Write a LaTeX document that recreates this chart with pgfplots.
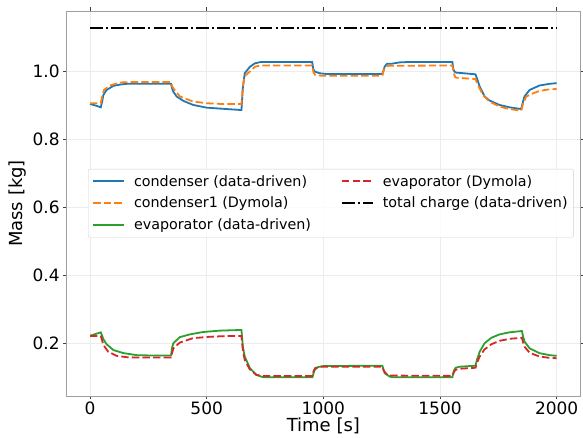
\documentclass[border=0pt]{standalone}
\usepackage{fontspec}
\setmainfont{DejaVu Sans}
\usepackage{pgfplots}
\pgfplotsset{compat=1.18}
\definecolor{cblue}{HTML}{1F77B4}
\definecolor{corange}{HTML}{FF7F0E}
\definecolor{cgreen}{HTML}{2CA02C}
\definecolor{cred}{HTML}{D62728}
\begin{document}
\begin{tikzpicture}
\begin{axis}[
  scale only axis, width=513.3pt, height=385pt,
  xmin=-100, xmax=2100, ymin=0.045, ymax=1.176,
  xtick={0,500,1000,1500,2000}, ytick={0.2,0.4,0.6,0.8,1.0},
  /pgf/number format/assume math mode=true,
  /pgf/number format/1000 sep={},
  yticklabel style={/pgf/number format/.cd,fixed,fixed zerofill,precision=1},
  tick label style={font=\fontsize{17}{20}\selectfont},
  xticklabel style={yshift=1pt},
  label style={font=\fontsize{18}{21}\selectfont},
  xlabel={Time [s]}, ylabel={Mass [kg]},
  xlabel style={yshift=2pt, inner ysep=1pt},
  grid=major, major grid style={draw=gray!15, line width=0.8pt},
  axis line style={draw=gray!75, line width=0.8pt},
  tick align=outside, major tick length=3.5pt,
  tick style={draw=black!75, line width=0.8pt},
  legend columns=2,
  legend cell align=left,
  legend image code/.code={\draw[#1] (0pt,0pt) -- (31pt,0pt);},
  legend style={at={(0.0415,0.5896)}, anchor=north west,
    font=\fontsize{14.3}{17}\selectfont,
    draw=gray!35, fill=white, fill opacity=0.8, draw opacity=1, text opacity=1,
    rounded corners=2pt, inner xsep=4pt, inner ysep=4pt, row sep=5.5pt,
    /tikz/every odd column/.append style={column sep=7pt},
    /tikz/every even column/.append style={column sep=28pt}},
]
% condenser (data-driven)
\addplot[cblue, line width=1.8pt, forget plot] coordinates {
(0,0.903)(25,0.898)(46,0.893)(52,0.910)(57,0.929)(71,0.944)(100,0.956)(130,0.960)(157,0.962)(347,0.962)
(352,0.948)(357,0.939)(371,0.925)(400,0.912)(442,0.900)(500,0.892)(585,0.888)(649,0.885)
(655,0.950)(663,0.993)(685,1.012)(706,1.022)(730,1.026)(952,1.026)
(957,1.005)(963,0.998)(985,0.993)(1013,0.991)(1253,0.991)
(1258,1.002)(1263,1.013)(1273,1.021)(1292,1.021)(1327,1.025)(1360,1.026)(1553,1.026)
(1557,1.005)(1562,0.998)(1570,0.995)(1652,0.990)
(1660,0.975)(1670,0.954)(1691,0.925)(1712,0.913)(1755,0.900)(1798,0.893)(1848,0.888)
(1855,0.908)(1862,0.925)(1884,0.944)(1926,0.957)(1969,0.962)(2000,0.964)
};
% condenser1 (Dymola)
\addplot[corange, line width=1.8pt, dash pattern=on 7.4pt off 3.2pt, forget plot] coordinates {
(0,0.905)(46,0.905)(52,0.925)(60,0.944)(85,0.957)(128,0.966)(170,0.967)(347,0.967)
(352,0.955)(357,0.949)(385,0.925)(442,0.910)(500,0.905)(560,0.903)(649,0.903)
(655,0.955)(663,0.985)(685,0.998)(706,1.012)(730,1.016)(952,1.016)
(958,0.995)(965,0.988)(990,0.986)(1253,0.986)
(1258,1.000)(1265,1.012)(1280,1.015)(1553,1.016)
(1558,0.995)(1565,0.982)(1570,0.980)(1652,0.976)
(1665,0.955)(1684,0.929)(1712,0.910)(1755,0.895)(1798,0.888)(1848,0.883)
(1856,0.905)(1870,0.925)(1898,0.934)(1926,0.941)(1960,0.945)(2000,0.947)
};
% evaporator (data-driven)
\addplot[cgreen, line width=1.8pt, forget plot] coordinates {
(0,0.222)(46,0.232)(52,0.222)(57,0.212)(71,0.197)(100,0.180)(143,0.171)(200,0.165)(260,0.164)(347,0.164)
(352,0.188)(357,0.200)(385,0.218)(428,0.226)(485,0.233)(556,0.237)(649,0.239)
(655,0.190)(663,0.161)(685,0.127)(713,0.107)(742,0.100)(953,0.100)
(958,0.112)(963,0.122)(977,0.130)(1000,0.133)(1253,0.134)
(1258,0.122)(1263,0.112)(1284,0.102)(1300,0.100)(1553,0.100)
(1560,0.120)(1567,0.128)(1584,0.131)(1652,0.134)
(1660,0.155)(1670,0.175)(1691,0.200)(1720,0.216)(1755,0.226)(1798,0.232)(1851,0.236)
(1856,0.220)(1862,0.205)(1884,0.185)(1926,0.171)(1969,0.165)(2000,0.163)
};
% evaporator (Dymola)
\addplot[cred, line width=1.8pt, dash pattern=on 7.4pt off 3.2pt, forget plot] coordinates {
(0,0.221)(46,0.221)(52,0.208)(57,0.195)(78,0.175)(114,0.163)(157,0.159)(200,0.158)(347,0.158)
(352,0.172)(357,0.185)(385,0.202)(442,0.215)(514,0.219)(580,0.221)(649,0.221)
(655,0.180)(663,0.151)(685,0.123)(713,0.107)(740,0.104)(953,0.104)
(958,0.118)(965,0.127)(985,0.131)(1253,0.131)
(1260,0.118)(1270,0.110)(1290,0.105)(1553,0.104)
(1560,0.116)(1567,0.122)(1584,0.125)(1652,0.128)
(1660,0.145)(1670,0.161)(1691,0.182)(1720,0.197)(1755,0.207)(1798,0.213)(1851,0.216)
(1856,0.203)(1862,0.190)(1884,0.172)(1926,0.161)(1969,0.157)(2000,0.156)
};
% total charge (data-driven)
\addplot[black, line width=1.8pt, dash pattern=on 12.8pt off 3.2pt on 2pt off 3.2pt, forget plot] coordinates {
(0,1.125)(500,1.125)(1000,1.125)(1500,1.125)(2000,1.125)
};
\addlegendimage{cblue, line width=1.8pt}
\addlegendentry{condenser (data-driven)}
\addlegendimage{cred, line width=1.8pt, dash pattern=on 7.4pt off 3.2pt}
\addlegendentry{evaporator (Dymola)}
\addlegendimage{corange, line width=1.8pt, dash pattern=on 7.4pt off 3.2pt}
\addlegendentry{condenser1 (Dymola)}
\addlegendimage{black, line width=1.8pt, dash pattern=on 12.8pt off 3.2pt on 2pt off 3.2pt}
\addlegendentry{total charge (data-driven)}
\addlegendimage{cgreen, line width=1.8pt}
\addlegendentry{evaporator (data-driven)}
\end{axis}
\pgfresetboundingbox
\path ([shift={(-66.7pt,-42pt)}]current axis.south west) rectangle ([shift={(3pt,11pt)}]current axis.north east);
\end{tikzpicture}
\end{document}
